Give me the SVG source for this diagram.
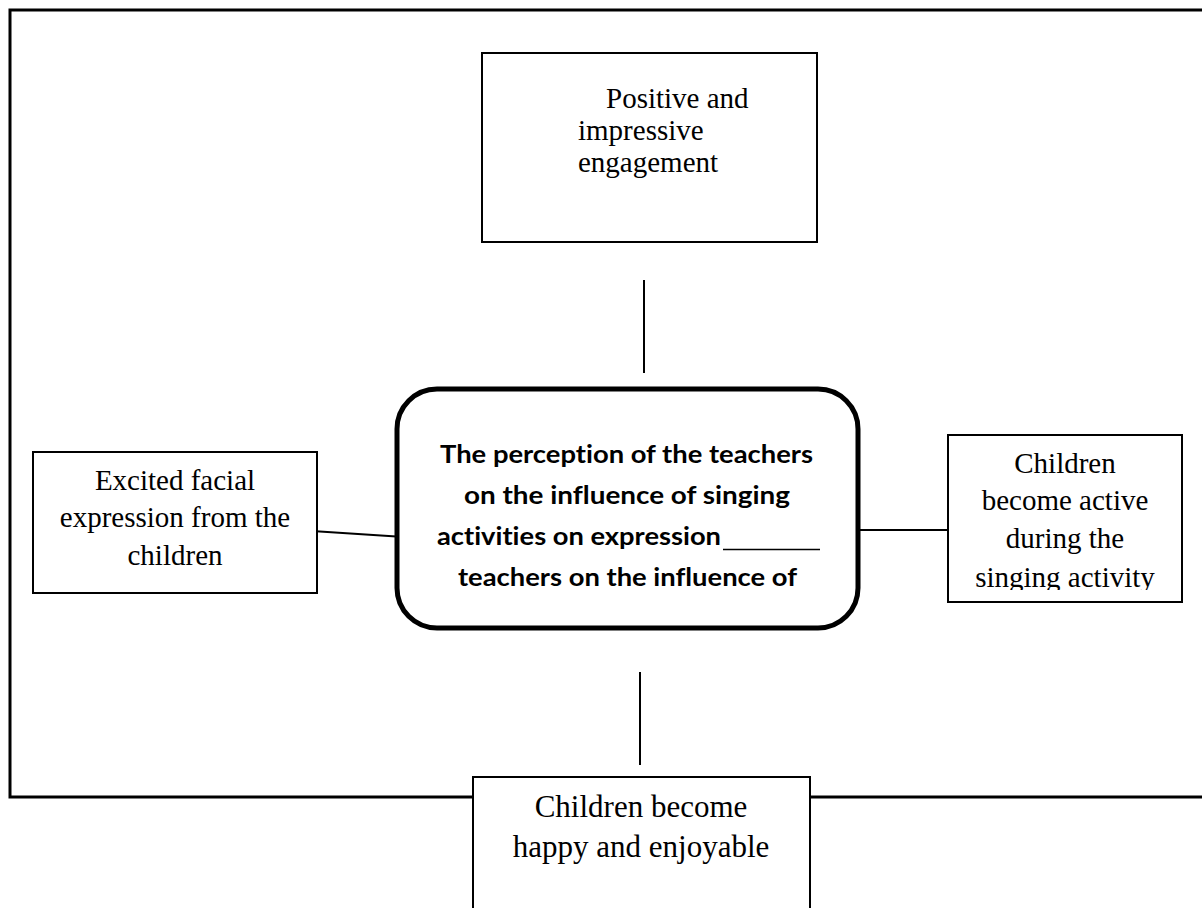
<svg xmlns="http://www.w3.org/2000/svg" width="1202" height="908" viewBox="0 0 1202 908">
<style>
.box{fill:#fff;stroke:#000;stroke-width:2}
.conn{stroke:#000;stroke-width:2;fill:none}
.t{font-family:"Liberation Serif","Times New Roman",serif;font-size:29px;fill:#000}
.b{font-family:Lato,"Liberation Sans",sans-serif;font-weight:bold;font-size:24px;fill:#000;font-variant-ligatures:none}
</style>
<defs>
<clipPath id="clipR"><rect x="948" y="435" width="234" height="155"/></clipPath>
</defs>
<rect id="frame" x="10" y="10" width="1200" height="787" fill="none" stroke="#000" stroke-width="3"/>
<g id="connectors">
<line class="conn" x1="644" y1="280" x2="644" y2="373"/>
<line class="conn" x1="312" y1="531" x2="404" y2="537"/>
<line class="conn" x1="858" y1="530" x2="948" y2="530"/>
<line class="conn" x1="640" y1="672" x2="640" y2="765"/>
</g>
<g id="top">
<rect class="box" x="482" y="53" width="335" height="189"/>
<text class="t" x="606" y="108">Positive and</text>
<text class="t" x="578" y="140">impressive</text>
<text class="t" x="578" y="172">engagement</text>
</g>
<g id="center">
<rect x="397" y="389" width="461" height="239" rx="40" ry="40" fill="#fff" stroke="#000" stroke-width="5"/>
<text class="b" x="626.5" y="463" text-anchor="middle" textLength="373" lengthAdjust="spacingAndGlyphs">The perception of the teachers</text>
<text class="b" x="627" y="504" text-anchor="middle" textLength="326" lengthAdjust="spacingAndGlyphs">on the influence of singing</text>
<text class="b" x="437" y="545" textLength="284" lengthAdjust="spacingAndGlyphs">activities on expression</text>
<line x1="723" y1="549.5" x2="820" y2="549.5" stroke="#000" stroke-width="1.5"/>
<text class="b" x="627.5" y="586" text-anchor="middle" textLength="339" lengthAdjust="spacingAndGlyphs">teachers on the influence of</text>
</g>
<g id="left">
<rect class="box" x="33" y="452" width="284" height="141"/>
<text class="t" x="175" y="490" text-anchor="middle">Excited facial</text>
<text class="t" x="175" y="527" text-anchor="middle">expression from the</text>
<text class="t" x="175" y="565" text-anchor="middle">children</text>
</g>
<g id="right">
<rect class="box" x="948" y="435" width="234" height="167"/>
<g clip-path="url(#clipR)">
<text class="t" x="1065" y="473" text-anchor="middle">Children</text>
<text class="t" x="1065" y="510" text-anchor="middle">become active</text>
<text class="t" x="1065" y="548" text-anchor="middle">during the</text>
<text class="t" x="1065" y="587" text-anchor="middle">singing activity</text>
</g>
</g>
<g id="bottom">
<rect class="box" x="473" y="777" width="337" height="150"/>
<text class="t" x="641" y="817" text-anchor="middle" style="font-size:31px">Children become</text>
<text class="t" x="641" y="857" text-anchor="middle" style="font-size:31px">happy and enjoyable</text>
</g>
</svg>
